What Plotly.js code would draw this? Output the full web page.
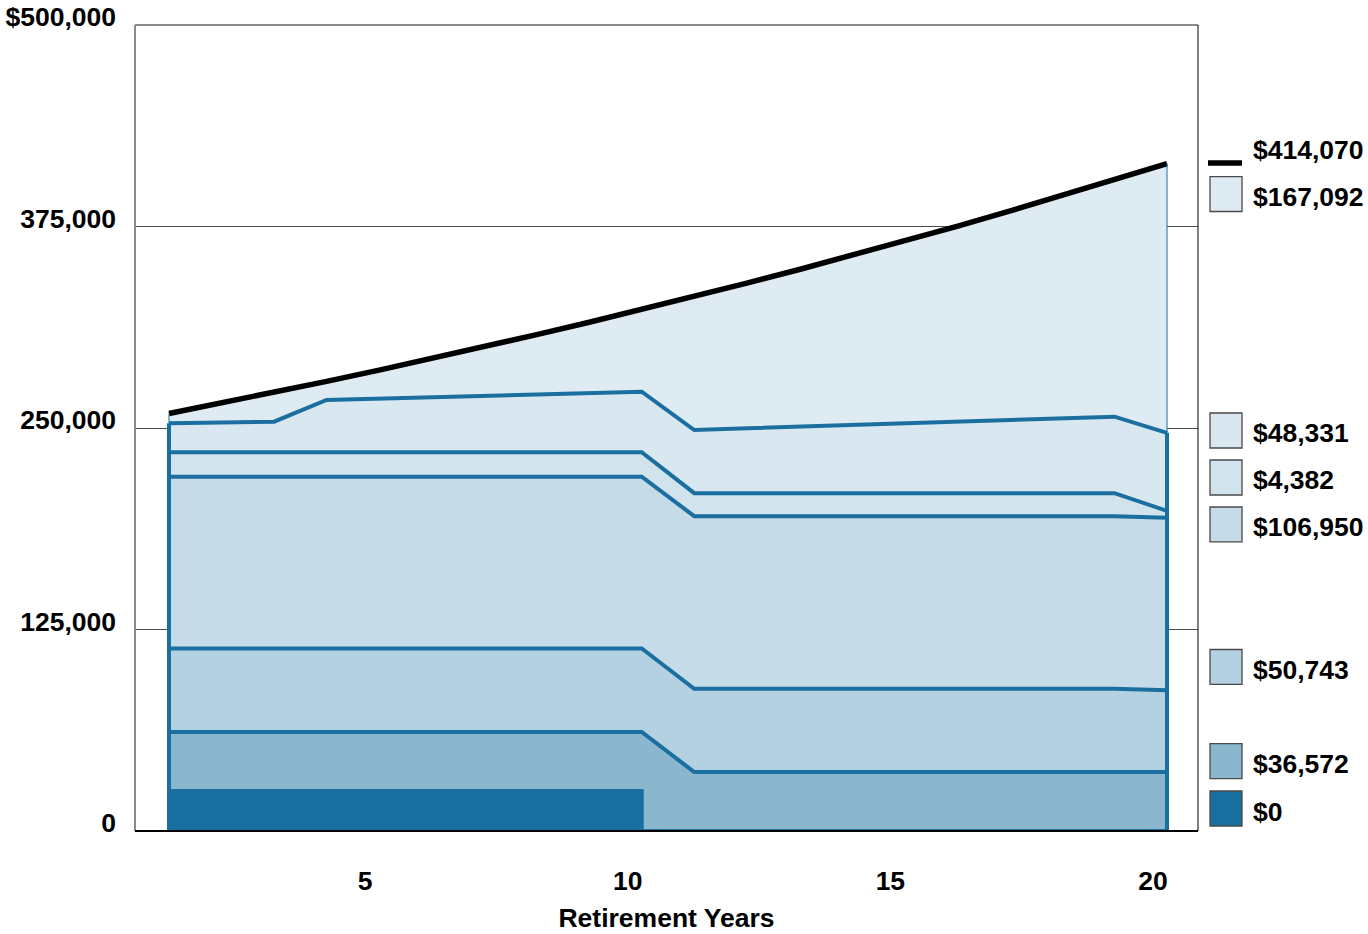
<!DOCTYPE html>
<html>
<head>
<meta charset="utf-8">
<script src="https://cdn.plot.ly/plotly-3.0.1.min.js"></script>
<style>
  html, body { margin: 0; padding: 0; background: #ffffff; }
  #chart { width: 1368px; height: 934px; }
</style>
</head>
<body>
<div id="chart"></div>
<script>
// Retirement years on the horizontal axis
const years = [1, 2, 3, 4, 5, 6, 7, 8, 9, 10, 11, 12, 13, 14, 15, 16, 17, 18, 19, 20];

// Annual amounts for each stacked layer, bottom to top
const layerA = [24850, 24850, 24850, 24850, 24850, 24850, 24850, 24850, 24850, 24850,
                0, 0, 0, 0, 0, 0, 0, 0, 0, 0];
const layerB = [36572, 36572, 36572, 36572, 36572, 36572, 36572, 36572, 36572, 36572,
                36572, 36572, 36572, 36572, 36572, 36572, 36572, 36572, 36572, 36572];
const layerC = [51800, 51800, 51800, 51800, 51800, 51800, 51800, 51800, 51800, 51800,
                51600, 51600, 51600, 51600, 51600, 51600, 51600, 51600, 51600, 50743];
const layerD = [106600, 106600, 106600, 106600, 106600, 106600, 106600, 106600, 106600, 106600,
                107100, 107100, 107100, 107100, 107100, 107100, 107100, 107100, 107100, 106950];
const layerE = [15140, 15140, 15140, 15140, 15140, 15140, 15140, 15140, 15140, 15140,
                14300, 14300, 14300, 14300, 14300, 14300, 14300, 14300, 14300, 4382];
const layerF = [17980, 18480, 18970, 32430, 33300, 34170, 35040, 35840, 36710, 37580,
                39190, 40220, 41250, 42290, 43320, 44350, 45380, 46410, 47440, 48331];
const layerG = [6080, 12060, 18210, 11550, 17650, 23930, 30390, 37100, 43920, 50940,
                82790, 90050, 97510, 105180, 113080, 121200, 129550, 138130, 146950, 167092];

// Axis tick labels
const yTickValues = [0, 125000, 250000, 375000, 500000];
const yTickLabels = ['0', '125,000', '250,000', '375,000', '$500,000'];
const xTickValues = [5, 10, 15, 20];
const xTickLabels = ['5', '10', '15', '20'];
const xAxisTitle = 'Retirement Years';

// ---- styling ----
const EDGE_BLUE = '#1a6fa0';
const layers = [layerA, layerB, layerC, layerD, layerE, layerF, layerG];
const layerFills = ['#176f9f', '#8ab7ce', '#b3d1e1', '#c5dbe7', '#d1e3ec', '#d9e8f0', '#deebf2'];
const FONT = { family: 'Liberation Sans, Arial, Helvetica, sans-serif', color: '#000000', weight: 'bold' };
const TEXT_SIZE = 26.5;

// running totals (top edge of every layer)
const tops = [];
let running = years.map(() => 0);
layers.forEach(vals => {
  running = running.map((v, k) => v + vals[k]);
  tops.push(running);
});
const last = years.length - 1;

const traces = layers.map((vals, i) => ({
  type: 'scatter',
  mode: 'lines',
  x: years,
  y: vals,
  stackgroup: 'income',
  fill: i === 0 ? 'tozeroy' : 'tonexty',
  fillcolor: layerFills[i],
  line: {
    color: i === layers.length - 1 ? '#000000' : EDGE_BLUE,
    width: i === layers.length - 1 ? 5.5 : 4,
    shape: i === 0 ? 'vh' : 'linear'
  },
  hoverinfo: 'skip',
  showlegend: false
}));

// closing edges on both ends of the stacked block
const capTop = tops[layers.length - 2];
const total = tops[layers.length - 1];
[0, last].forEach(k => {
  traces.push({
    type: 'scatter', mode: 'lines',
    x: [years[k], years[k]], y: [0, capTop[k]],
    line: { color: EDGE_BLUE, width: 4 },
    hoverinfo: 'skip', showlegend: false
  });
  traces.push({
    type: 'scatter', mode: 'lines',
    x: [years[k], years[k]], y: [capTop[k], total[k]],
    line: { color: EDGE_BLUE, width: 1 },
    hoverinfo: 'skip', showlegend: false
  });
});

// ---- custom key on the right: final-year value of each layer ----
const money = v => '$' + Math.round(v).toLocaleString('en-US');
// vertical centre of each key row, in plot-paper units
const keyRows = [
  { kind: 'line', y: 0.8288, textY: 0.8449, value: total[last] },
  { kind: 'box', y: 0.7903, fill: layerFills[6], value: layerG[last] },
  { kind: 'box', y: 0.4969, fill: layerFills[5], value: layerF[last] },
  { kind: 'box', y: 0.4386, fill: layerFills[4], value: layerE[last] },
  { kind: 'box', y: 0.3803, fill: layerFills[3], value: layerD[last] },
  { kind: 'box', y: 0.2035, fill: layerFills[2], value: layerC[last] },
  { kind: 'box', y: 0.0868, fill: layerFills[1], value: layerB[last] },
  { kind: 'box', y: 0.0279, fill: layerFills[0], value: layerA[last] }
];
const keyX0 = 1.0113, keyX1 = 1.0414, keyTextX = 1.0500, keyHalf = 0.0217;

const shapes = [];
const annotations = [];
keyRows.forEach(row => {
  if (row.kind === 'line') {
    shapes.push({
      type: 'line', xref: 'paper', yref: 'paper',
      x0: keyX0 - 0.0019, x1: keyX1, y0: row.y, y1: row.y,
      line: { color: '#000000', width: 5.5 }
    });
  } else {
    shapes.push({
      type: 'rect', xref: 'paper', yref: 'paper',
      x0: keyX0, x1: keyX1, y0: row.y - keyHalf, y1: row.y + keyHalf,
      fillcolor: row.fill, line: { color: '#4a4a4a', width: 1.3 }
    });
  }
  annotations.push({
    xref: 'paper', yref: 'paper',
    x: keyTextX, y: row.textY !== undefined ? row.textY : row.y,
    xanchor: 'left', yanchor: 'middle', yshift: row.kind === 'box' ? -3 : 0,
    text: money(row.value), showarrow: false,
    font: Object.assign({}, FONT, { size: TEXT_SIZE })
  });
});

// plot frame: grey on the left/top, black on the right/bottom
shapes.push(
  { type: 'line', xref: 'paper', yref: 'paper', x0: 0, x1: 0, y0: 0, y1: 1, line: { color: '#8a8a8a', width: 2 }, layer: 'above' },
  { type: 'line', xref: 'paper', yref: 'paper', x0: 0, x1: 1, y0: 1, y1: 1, line: { color: '#8a8a8a', width: 2 }, layer: 'above' },
  { type: 'line', xref: 'paper', yref: 'paper', x0: 1, x1: 1, y0: 0, y1: 1, line: { color: '#000000', width: 1 }, layer: 'above' },
  { type: 'line', xref: 'paper', yref: 'paper', x0: 0, x1: 1, y0: 0, y1: 0, line: { color: '#000000', width: 2 }, layer: 'above' }
);

const layout = {
  width: 1368,
  height: 934,
  margin: { l: 135, r: 170, t: 25, b: 103 },
  paper_bgcolor: '#ffffff',
  plot_bgcolor: '#ffffff',
  showlegend: false,
  font: Object.assign({}, FONT, { size: TEXT_SIZE }),
  xaxis: {
    range: [0.353, 20.59],
    tickvals: xTickValues,
    ticktext: xTickLabels,
    ticks: '',
    ticklabelshift: -14,
    ticklabelstandoff: 31,
    showgrid: false,
    zeroline: false,
    showline: false,
    tickfont: Object.assign({}, FONT, { size: TEXT_SIZE }),
    title: { text: xAxisTitle, font: Object.assign({}, FONT, { size: TEXT_SIZE }), standoff: 13 }
  },
  yaxis: {
    range: [0, 500000],
    tickvals: yTickValues,
    ticktext: yTickLabels,
    ticks: '',
    ticklabelshift: -8,
    ticklabelstandoff: 18,
    showgrid: true,
    gridcolor: '#4a4a4a',
    gridwidth: 1,
    zeroline: false,
    showline: false,
    tickfont: Object.assign({}, FONT, { size: TEXT_SIZE })
  },
  shapes: shapes,
  annotations: annotations
};

Plotly.newPlot('chart', traces, layout, { displayModeBar: false, staticPlot: true });
</script>
</body>
</html>
